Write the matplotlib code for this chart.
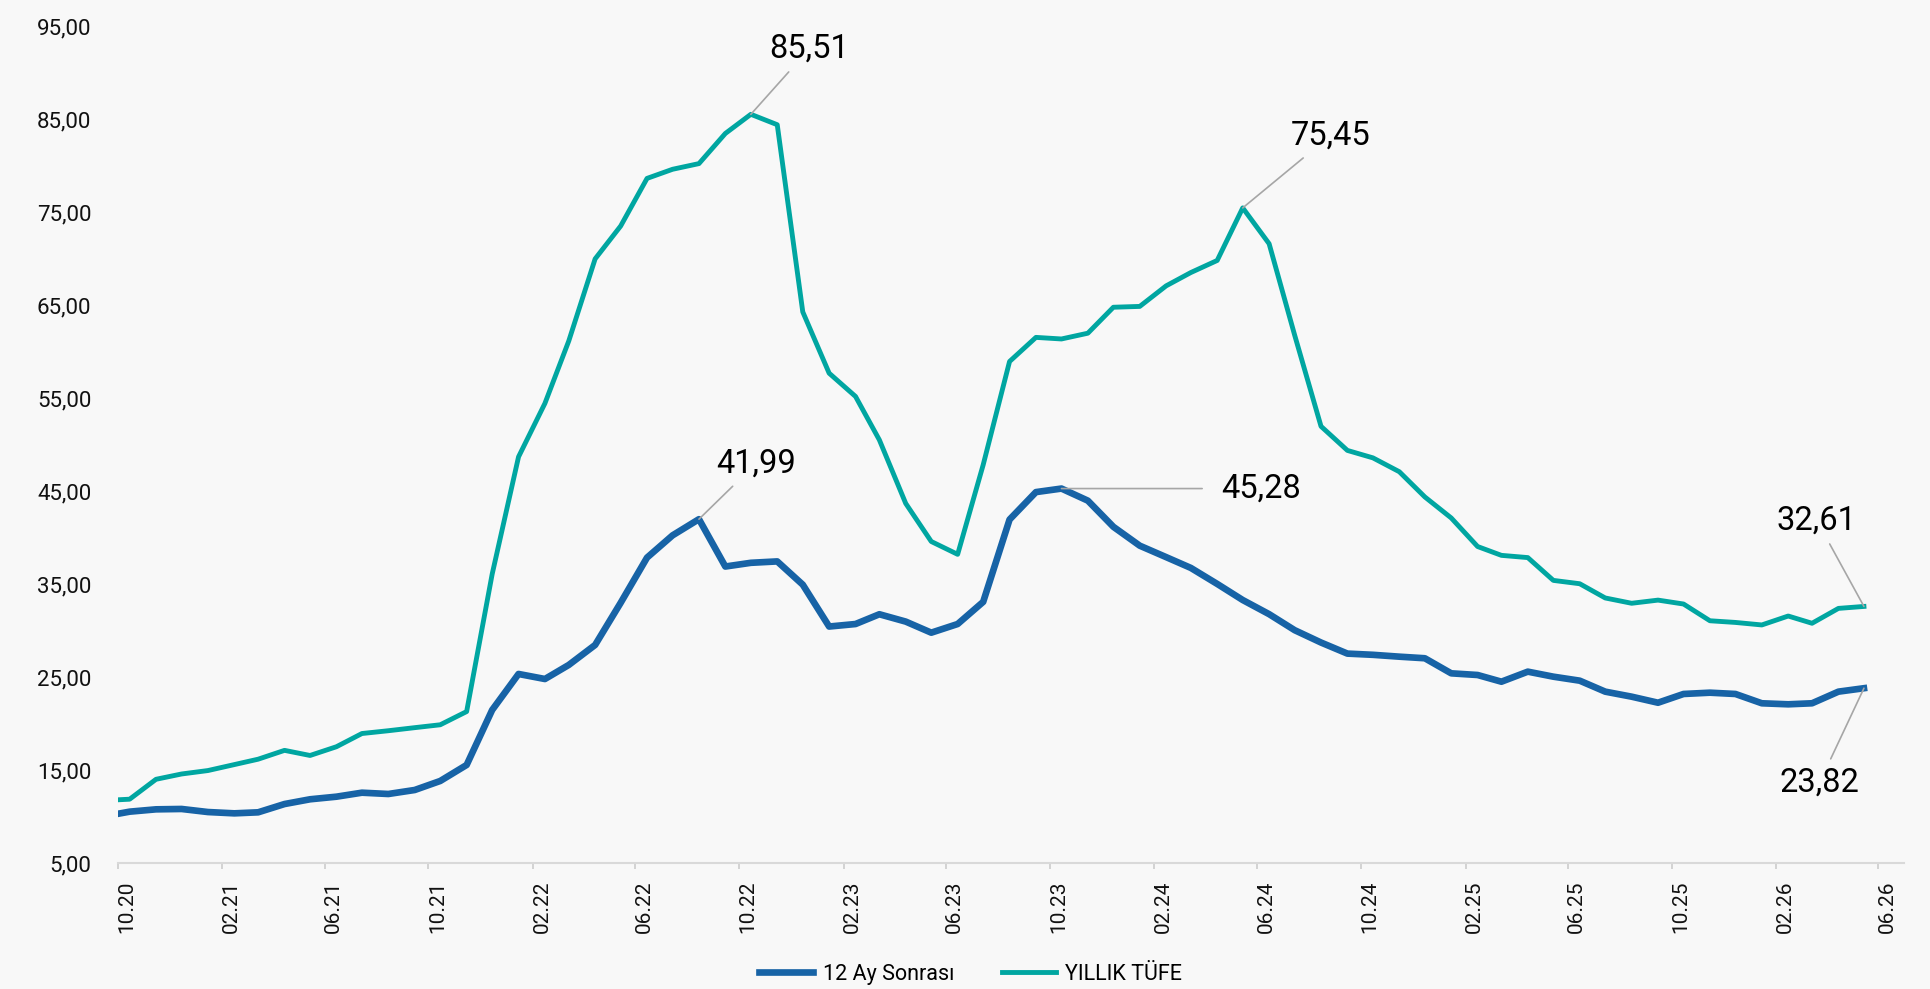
import matplotlib
matplotlib.use('Agg')
import matplotlib.pyplot as plt
import matplotlib.dates as mdates
import matplotlib.transforms as mtransforms
from matplotlib.ticker import FuncFormatter
import pandas as pd

# monthly series, Sep 2020 .. May 2026
months = pd.period_range('2020-09', '2026-05', freq='M')

tufe = [11.75, 11.89, 14.03, 14.60,
        14.97, 15.61, 16.19, 17.14, 16.59, 17.53, 18.95, 19.25, 19.58, 19.89, 21.31, 36.08,
        48.69, 54.44, 61.14, 69.97, 73.50, 78.62, 79.60, 80.21, 83.45, 85.51, 84.39, 64.27,
        57.68, 55.18, 50.51, 43.68, 39.59, 38.21, 47.83, 58.94, 61.53, 61.36, 61.98, 64.77,
        64.86, 67.07, 68.50, 69.80, 75.45, 71.60, 61.78, 51.97, 49.38, 48.58, 47.09, 44.38,
        42.12, 39.05, 38.10, 37.86, 35.41, 35.05, 33.52, 32.95, 33.29, 32.87, 31.07, 30.89,
        30.62, 31.58, 30.80, 32.40, 32.61]

beklenti_12ay = [10.05, 10.55, 10.80, 10.84,
                 10.51, 10.37, 10.48, 11.37, 11.88, 12.16, 12.59, 12.45, 12.88, 13.85, 15.57, 21.48,
                 25.35, 24.81, 26.32, 28.47, 33.00, 37.86, 40.25, 41.99, 36.90, 37.30, 37.45, 34.95,
                 30.45, 30.72, 31.77, 30.98, 29.79, 30.72, 33.10, 41.95, 44.90, 45.28, 43.98, 41.17,
                 39.14, 37.91, 36.75, 35.03, 33.30, 31.78, 30.06, 28.73, 27.54, 27.41, 27.21, 27.04,
                 25.42, 25.24, 24.52, 25.60, 25.06, 24.63, 23.45, 22.91, 22.26, 23.20, 23.34, 23.20,
                 22.20, 22.09, 22.20, 23.45, 23.82]

series_names = ['12 Ay Sonrası', 'YILLIK TÜFE']

# labelled points per series (month)
tufe_marked = ['2022-10', '2024-05', '2026-05']
beklenti_marked = ['2022-08', '2023-10', '2026-05']

BLUE = '#1763a6'
TEAL = '#00a6a1'
BG = '#f8f8f8'
FONT = ['Roboto', 'DejaVu Sans']

x = months.to_timestamp() + pd.Timedelta(days=14)

fig = plt.figure(figsize=(19.3, 9.89), dpi=100, facecolor=BG)
ax = fig.add_axes([0.061, 0.1271, 0.9255, 0.8466])
ax.set_facecolor(BG)

l1, = ax.plot(x, beklenti_12ay, color=BLUE, lw=4.8, label=series_names[0], zorder=3)
l2, = ax.plot(x, tufe, color=TEAL, lw=3.5, label=series_names[1], zorder=2)

ax.set_xlim(pd.Timestamp('2020-10-01'), pd.Timestamp('2026-07-01'))
ax.set_ylim(5, 95)
ax.set_yticks(range(5, 96, 10))
ax.yaxis.set_major_formatter(FuncFormatter(lambda v, p: f'{v:.2f}'.replace('.', ',')))
ax.xaxis.set_major_locator(mdates.MonthLocator(bymonth=[2, 6, 10]))
ax.xaxis.set_major_formatter(mdates.DateFormatter('%m.%y'))

for s in ['top', 'right', 'left']:
    ax.spines[s].set_visible(False)
ax.spines['bottom'].set_color('#d9d9d9')
ax.spines['bottom'].set_linewidth(1.5)

ax.tick_params(axis='y', length=0, pad=19, labelsize=16, labelcolor='#111111')
ax.tick_params(axis='x', length=4.5, width=1.3, color='#d0d0d0', pad=8,
               labelsize=15, labelcolor='#111111', labelrotation=90)
shift = mtransforms.ScaledTranslation(0.09, 0, fig.dpi_scale_trans)
for lbl in ax.get_xticklabels() + ax.get_yticklabels():
    lbl.set_fontfamily(FONT)
for lbl in ax.get_xticklabels():
    lbl.set_transform(lbl.get_transform() + shift)

def mark(values, month, offset, shrink=4):
    i = list(months.strftime('%Y-%m')).index(month)
    v = values[i]
    ax.annotate(f'{v:.2f}'.replace('.', ','), xy=(x[i], v), xytext=offset,
                textcoords='offset points', ha='center', va='center',
                fontsize=23.5, fontfamily=FONT, fontweight='normal', color='black',
                arrowprops=dict(arrowstyle='-', color='#a6a6a6', lw=1.2,
                                shrinkA=shrink, shrinkB=0),
                zorder=5)

mark(tufe, tufe_marked[0], (42, 47))
mark(tufe, tufe_marked[1], (63, 52))
mark(tufe, tufe_marked[2], (-34, 62))
mark(beklenti_12ay, beklenti_marked[0], (41, 40))
mark(beklenti_12ay, beklenti_marked[1], (144, 0), shrink=12)
mark(beklenti_12ay, beklenti_marked[2], (-32, -68))

fig.legend(handles=[l1, l2], labels=series_names, loc='center',
           bbox_to_anchor=(0.503, 0.015), ncol=2, frameon=False,
           prop={'family': FONT, 'size': 15.5},
           handlelength=2.5, handletextpad=0.45, columnspacing=2.2)

fig.savefig('out.png', dpi=100, facecolor=BG)
